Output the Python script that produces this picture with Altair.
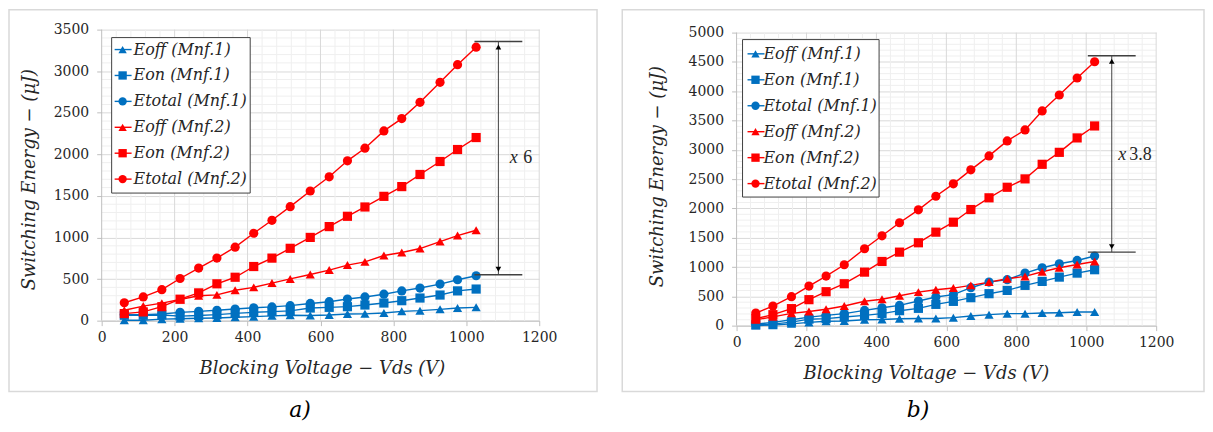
import altair as alt
import pandas as pd

SERIF = "DejaVu Serif"
TXT = "#262626"

SERIES = ["Eoff (Mnf.1)", "Eon (Mnf.1)", "Etotal (Mnf.1)",
          "Eoff (Mnf.2)", "Eon (Mnf.2)", "Etotal (Mnf.2)"]
COLORS = ["#0070C0", "#0070C0", "#0070C0", "#FF0000", "#FF0000", "#FF0000"]
SHAPES = ["triangle-up", "square", "circle", "triangle-up", "square", "circle"]

# ---- panel a) ----
A_VDS = [62, 114, 165, 215, 266, 316, 366, 417, 467, 517, 572, 624, 674, 722, 774, 823, 873, 928, 976, 1027]
A_EOFF1 = [5, 5, 18, 22, 28, 32, 40, 48, 58, 65, 62, 68, 80, 82, 92, 112, 120, 136, 152, 160]
A_EON1 = [65, 65, 68, 55, 62, 72, 88, 100, 108, 118, 152, 160, 168, 188, 212, 240, 272, 308, 358, 380]
A_ETOT1 = [72, 72, 80, 100, 112, 125, 140, 155, 165, 180, 207, 228, 260, 285, 318, 358, 392, 440, 492, 540]
A_EOFF2 = [125, 175, 210, 255, 300, 310, 365, 400, 452, 502, 555, 608, 668, 707, 783, 819, 867, 951, 1023, 1087]
A_EON2 = [85, 105, 168, 258, 334, 443, 522, 651, 752, 870, 1001, 1131, 1255, 1367, 1495, 1612, 1758, 1914, 2058, 2202]
A_ETOT2 = [215, 285, 372, 507, 632, 752, 884, 1051, 1207, 1371, 1559, 1730, 1922, 2074, 2282, 2430, 2626, 2866, 3078, 3289]

# ---- panel b) ----
B_VDS = [55, 104, 157, 207, 256, 308, 366, 416, 466, 520, 570, 620, 670, 722, 774, 825, 874, 923, 974, 1024]
B_EOFF1 = [3, 8, 30, 55, 75, 80, 100, 105, 118, 122, 122, 136, 164, 187, 204, 204, 215, 221, 232, 232]
B_EON1 = [15, 25, 60, 110, 120, 148, 175, 205, 255, 295, 363, 414, 477, 545, 601, 687, 755, 828, 896, 954]
B_ETOT1 = [25, 55, 100, 145, 175, 205, 260, 305, 345, 420, 488, 528, 647, 743, 784, 896, 988, 1056, 1112, 1188]
B_EOFF2 = [100, 150, 210, 240, 280, 335, 415, 450, 510, 572, 613, 641, 687, 743, 800, 840, 920, 988, 1044, 1095]
B_EON2 = [119, 187, 290, 443, 579, 715, 913, 1095, 1254, 1414, 1595, 1765, 1981, 2181, 2361, 2504, 2753, 2957, 3203, 3407]
B_ETOT2 = [215, 334, 494, 675, 845, 1039, 1312, 1533, 1755, 1976, 2208, 2419, 2658, 2896, 3152, 3339, 3663, 3935, 4225, 4503]

# ratio annotations: (x of arrow, y top, y bottom, label)
A_ARROW = dict(x=1088, top=3357, bot=552, label="6")
B_ARROW = dict(x=1073, top=4605, bot=1254, label="3.8")


def long_df(x, cols):
    rows = []
    for name, vals in zip(SERIES, cols):
        for xi, yi in zip(x, vals):
            rows.append({"vds": xi, "e": yi, "series": name})
    return pd.DataFrame(rows)


color_scale = alt.Scale(domain=SERIES, range=COLORS)
shape_scale = alt.Scale(domain=SERIES, range=SHAPES)


def panel(df, W, Hd, tp, ymax, arrow, geo, tag):
    Hv = Hd + tp                       # view height; data area starts tp px below the top
    xs = alt.Scale(domain=[0, 1200], nice=False)
    ys = alt.Scale(domain=[0, ymax], range=[Hv, tp], nice=False)
    x_axis = alt.Axis(values=list(range(0, 1201, 200)), format="d", labelFlush=False,
                      title="Blocking Voltage − Vds (V)", grid=False,
                      domainColor="#bfbfbf", tickColor="#bfbfbf",
                      tickSize=5, labelFont=SERIF, labelFontSize=14, labelColor=TXT,
                      labelPadding=5, titleFont=SERIF, titleFontSize=18,
                      titleFontStyle="italic", titleFontWeight="normal", titleColor=TXT,
                      titleX=geo["xtx"], titleY=48, titleBaseline="middle", titleAlign="center")
    y_axis = alt.Axis(values=list(range(0, ymax + 1, 500)), format="d", labelFlush=False,
                      title="Switching Energy − (μJ)", grid=True, domain=False,
                      gridColor="#d9d9d9", tickColor="#bfbfbf",
                      tickSize=5, labelFont=SERIF, labelFontSize=14, labelColor=TXT,
                      labelPadding=8, titleFont=SERIF, titleFontSize=18,
                      titleFontStyle="italic", titleFontWeight="normal", titleColor=TXT,
                      titleX=geo["ytx"], titleY=geo["yty"], titleBaseline="middle",
                      titleAlign="center", titleAngle=270)
    NX = dict(scale=xs, axis=x_axis)
    NY = dict(scale=ys, axis=y_axis)

    one = pd.DataFrame({"k": [0]})
    border = alt.Chart(one).mark_rect(fill="white", fillOpacity=0, stroke="#d9d9d9",
                                      strokeWidth=1.5).encode(
        x=alt.value(geo["bx1"]), x2=alt.value(geo["bx2"]),
        y=alt.value(geo["by1"]), y2=alt.value(geo["by2"]))

    minor_x = [v for v in range(40, 1200, 40) if v % 200]
    major_x = list(range(200, 1201, 200))
    minor_y = [v for v in range(100, ymax, 100) if v % 500]
    gx = alt.Chart(pd.DataFrame({"g": minor_x})).mark_rule(color="#efefef", strokeWidth=1).encode(
        x=alt.X("g:Q", **NX), y=alt.value(tp), y2=alt.value(Hv))
    gy = alt.Chart(pd.DataFrame({"g": minor_y})).mark_rule(color="#efefef", strokeWidth=1).encode(
        y=alt.Y("g:Q", **NY))
    gX = alt.Chart(pd.DataFrame({"g": major_x})).mark_rule(color="#d9d9d9", strokeWidth=1).encode(
        x=alt.X("g:Q", **NX), y=alt.value(tp), y2=alt.value(Hv))
    g0 = alt.Chart(pd.DataFrame({"g": [0]})).mark_rule(color="#bfbfbf", strokeWidth=1).encode(
        x=alt.X("g:Q", **NX), y=alt.value(tp), y2=alt.value(Hv))

    base = alt.Chart(df)
    lines = base.mark_line(strokeWidth=1.4).encode(
        x=alt.X("vds:Q", **NX),
        y=alt.Y("e:Q", **NY),
        color=alt.Color("series:N", scale=color_scale, legend=None),
        detail="series:N",
        order=alt.Order("vds:Q"))
    pts = base.mark_point(filled=True, opacity=1, size=85).encode(
        x=alt.X("vds:Q", **NX),
        y=alt.Y("e:Q", **NY),
        color=alt.Color("series:N", scale=color_scale, legend=None),
        shape=alt.Shape("series:N", scale=shape_scale, legend=None))

    # ratio arrow
    ad = pd.DataFrame({"x": [arrow["x"]], "top": [arrow["top"]], "bot": [arrow["bot"]]})
    upp = ymax / Hd          # data units per pixel (y)
    xpp = 1200 / W           # data units per pixel (x)
    cap_half = 24 * xpp
    head_off = 5.5 * upp
    ac = alt.Chart(ad)
    shaft = ac.mark_rule(color="#404040", strokeWidth=1).encode(
        x=alt.X("x:Q", **NX), y=alt.Y("top:Q", **NY), y2="bot:Q")
    cap_top = ac.transform_calculate(x1=f"datum.x-{cap_half}", x2=f"datum.x+{cap_half}").mark_rule(
        color="#404040", strokeWidth=1.3).encode(
        x=alt.X("x1:Q", **NX), x2="x2:Q", y=alt.Y("top:Q", **NY))
    cap_bot = ac.transform_calculate(x1=f"datum.x-{cap_half}", x2=f"datum.x+{cap_half}").mark_rule(
        color="#404040", strokeWidth=1.3).encode(
        x=alt.X("x1:Q", **NX), x2="x2:Q", y=alt.Y("bot:Q", **NY))
    head_up = ac.transform_calculate(hy=f"datum.top-{head_off}").mark_point(
        shape="triangle-up", filled=True, color="black", size=32, opacity=1).encode(
        x=alt.X("x:Q", **NX), y=alt.Y("hy:Q", **NY))
    head_dn = ac.transform_calculate(hy=f"datum.bot+{head_off}").mark_point(
        shape="triangle-down", filled=True, color="black", size=32, opacity=1).encode(
        x=alt.X("x:Q", **NX), y=alt.Y("hy:Q", **NY))
    mid_y = geo["ty"]
    tx = pd.DataFrame({"x": [geo["tx_x"]], "y": [mid_y], "t": ["x"]})
    tn = pd.DataFrame({"x": [geo["tn_x"]], "y": [mid_y], "t": [arrow["label"]]})
    t_x = alt.Chart(tx).mark_text(font="Liberation Serif", fontStyle="italic", fontSize=18,
                                  color=TXT, align="center", baseline="middle").encode(
        x=alt.X("x:Q", **NX), y=alt.Y("y:Q", **NY), text="t:N")
    t_n = alt.Chart(tn).mark_text(font="Liberation Serif", fontSize=18, color=TXT,
                                  align="left", baseline="middle").encode(
        x=alt.X("x:Q", **NX), y=alt.Y("y:Q", **NY), text="t:N")

    tag_mark = alt.Chart(one).mark_text(font=SERIF, fontStyle="italic", fontSize=22, color="black",
                                        align="center", baseline="middle", text=tag).encode(
        x=alt.value(geo["tagx"]), y=alt.value(geo["tagy"]))

    # legend (decoration): rows placed at fixed pixel offsets, converted to data units
    step = (geo["lr5"] - geo["lr0"]) / 5
    ld = pd.DataFrame({"series": SERIES,
                       "ly": [ymax - (geo["lr0"] + i * step - tp) * upp for i in range(6)]})
    lbox = alt.Chart(one).mark_rect(fill="white", stroke="#404040", strokeWidth=1).encode(
        x=alt.value(geo["lx1"]), x2=alt.value(geo["lx2"]),
        y=alt.value(geo["ly1"]), y2=alt.value(geo["ly2"]))
    lrule = alt.Chart(ld).mark_rule(strokeWidth=1.4).encode(
        x=alt.value(geo["lsym"] - 8), x2=alt.value(geo["lsym"] + 9),
        y=alt.Y("ly:Q", **NY),
        color=alt.Color("series:N", scale=color_scale, legend=None))
    lpts = alt.Chart(ld).mark_point(filled=True, opacity=1, size=70).encode(
        x=alt.value(geo["lsym"]), y=alt.Y("ly:Q", **NY),
        color=alt.Color("series:N", scale=color_scale, legend=None),
        shape=alt.Shape("series:N", scale=shape_scale, legend=None))
    ltxt = alt.Chart(ld).mark_text(font=SERIF, fontStyle="italic", fontSize=16, color=TXT,
                                   align="left", baseline="middle").encode(
        x=alt.value(geo["ltx"]), y=alt.Y("ly:Q", **NY), text="series:N")

    return alt.layer(border, gx, gy, gX, g0, lines, pts, shaft, cap_top, cap_bot, head_up, head_dn,
                     t_x, t_n, tag_mark, lbox, lrule, lpts, ltxt).properties(width=W, height=Hv)


# pixel geometry relative to each panel's view (top-left of the plot area)
geo_a = dict(bx1=-93, bx2=497, by1=-20, by2=363, xtx=221, ytx=-72, yty=150, tx_x=1130, tn_x=1156,
             ty=1954, tagx=199, tagy=382, lx1=10, lx2=149, ly1=8, ly2=164, lr0=20, lr5=150,
             lsym=21, ltx=32)
geo_b = dict(bx1=-114.7, bx2=469, by1=-20, by2=363, xtx=190, ytx=-79, yty=147, tx_x=1103, tn_x=1123,
             ty=2918, tagx=182, tagy=382, lx1=6, lx2=143, ly1=10, ly2=168, lr0=24.3, lr5=154.5,
             lsym=19, ltx=27)

pa = panel(long_df(A_VDS, [A_EOFF1, A_EON1, A_ETOT1, A_EOFF2, A_EON2, A_ETOT2]),
           439, 292, 0, 3500, A_ARROW, geo_a, "a)")
pb = panel(long_df(B_VDS, [B_EOFF1, B_EON1, B_ETOT1, B_EOFF2, B_EON2, B_ETOT2]),
           421, 294, 3, 5000, B_ARROW, geo_b, "b)")

chart = alt.hconcat(pa, pb, spacing=23).properties(padding=0).configure_view(stroke=None)
chart.save("out.html", embed_options={"renderer": "svg", "actions": False})
